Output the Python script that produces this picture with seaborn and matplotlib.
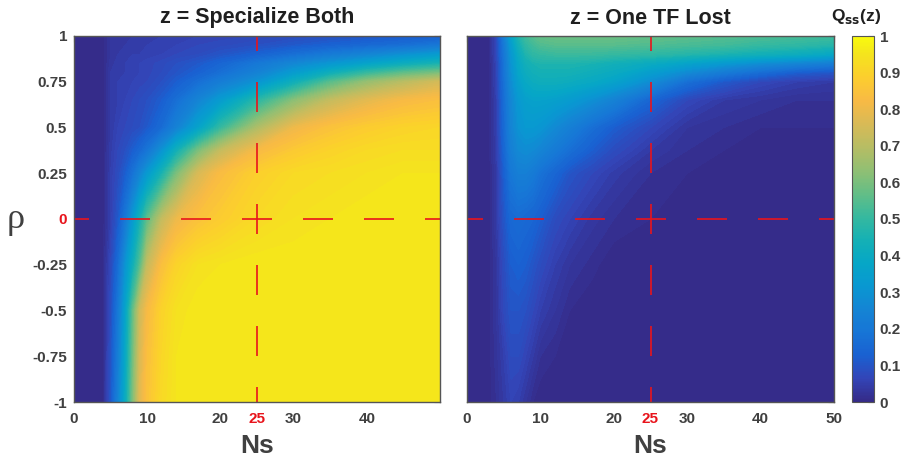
import numpy as np
import matplotlib
matplotlib.use("Agg")
import matplotlib.pyplot as plt
import seaborn as sns
from matplotlib.colors import LinearSegmentedColormap, Normalize
from matplotlib.cm import ScalarMappable

# ---- grid of selection strength (Ns) and correlation (rho) ----
ns_values = [0, 3, 4, 5, 6, 7, 8, 9, 10, 12, 14, 17, 20, 25, 30, 35, 40, 45, 50]
rho_values = [-1, -0.75, -0.5, -0.25, 0, 0.25, 0.375, 0.5, 0.65, 0.75, 0.8, 0.85, 0.9, 0.95, 1]

# steady-state probability Q_ss(z), one row per rho value (bottom to top)
specialize_both = [
    [0, 0, 0.01, 0.10, 0.24, 0.40, 0.60, 0.78, 0.85, 0.92, 0.95, 0.96, 0.96, 0.96, 0.96, 0.96, 0.96, 0.96, 0.96],
    [0, 0, 0.01, 0.09, 0.22, 0.38, 0.58, 0.76, 0.84, 0.91, 0.95, 0.96, 0.96, 0.96, 0.96, 0.96, 0.96, 0.96, 0.96],
    [0, 0, 0.01, 0.08, 0.20, 0.36, 0.56, 0.74, 0.82, 0.90, 0.94, 0.96, 0.96, 0.96, 0.96, 0.96, 0.96, 0.96, 0.96],
    [0, 0, 0.01, 0.07, 0.16, 0.30, 0.42, 0.55, 0.72, 0.84, 0.90, 0.94, 0.95, 0.96, 0.96, 0.96, 0.96, 0.96, 0.96],
    [0, 0, 0.005, 0.05, 0.11, 0.20, 0.32, 0.44, 0.56, 0.72, 0.80, 0.85, 0.88, 0.92, 0.94, 0.95, 0.96, 0.96, 0.96],
    [0, 0, 0.005, 0.05, 0.08, 0.12, 0.18, 0.25, 0.32, 0.45, 0.60, 0.76, 0.83, 0.89, 0.92, 0.93, 0.94, 0.95, 0.95],
    [0, 0, 0.005, 0.045, 0.07, 0.09, 0.12, 0.15, 0.19, 0.30, 0.43, 0.60, 0.72, 0.82, 0.87, 0.90, 0.92, 0.93, 0.93],
    [0, 0, 0.005, 0.04, 0.06, 0.07, 0.08, 0.09, 0.11, 0.16, 0.24, 0.36, 0.50, 0.68, 0.80, 0.85, 0.88, 0.90, 0.91],
    [0, 0, 0.005, 0.04, 0.05, 0.06, 0.07, 0.08, 0.09, 0.12, 0.17, 0.25, 0.33, 0.48, 0.62, 0.72, 0.78, 0.82, 0.84],
    [0, 0, 0.005, 0.04, 0.05, 0.055, 0.06, 0.065, 0.07, 0.09, 0.12, 0.17, 0.22, 0.30, 0.42, 0.55, 0.64, 0.70, 0.75],
    [0, 0, 0.005, 0.04, 0.05, 0.05, 0.055, 0.06, 0.065, 0.08, 0.10, 0.13, 0.17, 0.24, 0.33, 0.42, 0.50, 0.56, 0.60],
    [0, 0, 0.005, 0.035, 0.045, 0.05, 0.055, 0.06, 0.065, 0.075, 0.09, 0.11, 0.14, 0.20, 0.26, 0.31, 0.36, 0.41, 0.45],
    [0, 0, 0.005, 0.03, 0.04, 0.045, 0.05, 0.05, 0.055, 0.06, 0.07, 0.08, 0.10, 0.13, 0.17, 0.21, 0.25, 0.29, 0.33],
    [0, 0, 0.005, 0.03, 0.04, 0.04, 0.045, 0.05, 0.05, 0.055, 0.06, 0.07, 0.075, 0.09, 0.11, 0.13, 0.15, 0.17, 0.20],
    [0, 0, 0.005, 0.03, 0.035, 0.04, 0.04, 0.045, 0.05, 0.05, 0.055, 0.06, 0.065, 0.07, 0.08, 0.09, 0.10, 0.11, 0.12],
]

one_tf_lost = [
    [0, 0.005, 0.02, 0.04, 0.06, 0.05, 0.03, 0.01, 0, 0, 0, 0, 0, 0, 0, 0, 0, 0, 0],
    [0, 0.005, 0.025, 0.05, 0.08, 0.08, 0.06, 0.04, 0.02, 0.01, 0, 0, 0, 0, 0, 0, 0, 0, 0],
    [0, 0.005, 0.03, 0.07, 0.10, 0.10, 0.09, 0.07, 0.05, 0.03, 0.01, 0, 0, 0, 0, 0, 0, 0, 0],
    [0, 0.005, 0.03, 0.08, 0.12, 0.13, 0.12, 0.10, 0.08, 0.05, 0.03, 0.015, 0, 0, 0, 0, 0, 0, 0],
    [0, 0.005, 0.04, 0.10, 0.15, 0.16, 0.15, 0.14, 0.12, 0.08, 0.06, 0.035, 0.02, 0.01, 0, 0, 0, 0, 0],
    [0, 0.005, 0.04, 0.12, 0.20, 0.23, 0.23, 0.21, 0.18, 0.14, 0.10, 0.07, 0.045, 0.02, 0.01, 0, 0, 0, 0],
    [0, 0.005, 0.045, 0.14, 0.23, 0.27, 0.28, 0.27, 0.25, 0.21, 0.17, 0.12, 0.08, 0.04, 0.02, 0.01, 0, 0, 0],
    [0, 0.005, 0.05, 0.15, 0.25, 0.30, 0.32, 0.32, 0.31, 0.27, 0.23, 0.17, 0.12, 0.07, 0.03, 0.02, 0.01, 0.01, 0.01],
    [0, 0.005, 0.05, 0.16, 0.26, 0.32, 0.35, 0.36, 0.36, 0.35, 0.33, 0.29, 0.24, 0.14, 0.07, 0.04, 0.03, 0.02, 0.02],
    [0, 0.005, 0.06, 0.17, 0.28, 0.35, 0.39, 0.41, 0.42, 0.42, 0.41, 0.39, 0.36, 0.28, 0.17, 0.11, 0.07, 0.05, 0.04],
    [0, 0.005, 0.06, 0.18, 0.29, 0.37, 0.41, 0.43, 0.44, 0.44, 0.44, 0.42, 0.40, 0.34, 0.27, 0.21, 0.16, 0.12, 0.10],
    [0, 0.005, 0.06, 0.18, 0.30, 0.38, 0.43, 0.45, 0.46, 0.46, 0.46, 0.45, 0.43, 0.40, 0.36, 0.32, 0.28, 0.25, 0.22],
    [0, 0.005, 0.07, 0.19, 0.31, 0.40, 0.46, 0.49, 0.50, 0.51, 0.51, 0.51, 0.50, 0.49, 0.47, 0.45, 0.43, 0.41, 0.38],
    [0, 0.005, 0.07, 0.20, 0.33, 0.43, 0.49, 0.52, 0.54, 0.55, 0.55, 0.55, 0.55, 0.54, 0.53, 0.52, 0.50, 0.49, 0.47],
    [0, 0.005, 0.07, 0.22, 0.36, 0.46, 0.52, 0.55, 0.57, 0.58, 0.58, 0.58, 0.58, 0.57, 0.56, 0.55, 0.54, 0.53, 0.52],
]

panel_titles = ["z = Specialize Both", "z = One TF Lost"]
ns_ticks_left = [0, 10, 20, 25, 30, 40]
ns_ticks_right = [0, 10, 20, 25, 30, 40, 50]
rho_ticks = [-1, -0.75, -0.5, -0.25, 0, 0.25, 0.5, 0.75, 1]
rho_tick_labels = ["-1", "-0.75", "-0.5", "-0.25", "0", "0.25", "0.5", "0.75", "1"]
cbar_ticks = [0, 0.1, 0.2, 0.3, 0.4, 0.5, 0.6, 0.7, 0.8, 0.9, 1]
cbar_tick_labels = ["0", "0.1", "0.2", "0.3", "0.4", "0.5", "0.6", "0.7", "0.8", "0.9", "1"]
ns_ref = 25
rho_ref = 0

# ---- style ----
sns.set_theme(style="white")
plt.rcParams["font.family"] = ["Liberation Sans", "DejaVu Sans"]
plt.rcParams["font.weight"] = "bold"
plt.rcParams["axes.unicode_minus"] = False
plt.rcParams["lines.scale_dashes"] = False
plt.rcParams["mathtext.default"] = "bf"

TEXT = "#404040"
DARK = "#1f1f1f"
SPINE = "#555555"
RED = "#e8141c"

# parula-like colormap
parula_anchors = [
    (0, (0.2081, 0.1663, 0.5292)), (4, (0.1990, 0.2700, 0.7200)),
    (8, (0.1000, 0.3800, 0.8200)), (12, (0.0900, 0.4600, 0.8400)),
    (16, (0.0793, 0.5200, 0.8312)), (20, (0.0343, 0.5966, 0.8199)),
    (24, (0.0228, 0.6535, 0.7768)), (28, (0.0843, 0.6928, 0.7062)),
    (32, (0.2178, 0.7250, 0.6193)), (36, (0.3953, 0.7459, 0.5244)),
    (40, (0.5709, 0.7485, 0.4494)), (44, (0.7184, 0.7411, 0.3905)),
    (48, (0.8507, 0.7299, 0.3360)), (52, (0.9739, 0.7314, 0.2666)),
    (56, (0.9880, 0.8066, 0.1794)), (60, (0.9589, 0.8949, 0.1132)),
    (63, (0.9763, 0.9831, 0.0538)),
]
cmap = LinearSegmentedColormap.from_list(
    "parula", [(i / 63, c) for i, c in parula_anchors], N=256)
norm = Normalize(0, 1)

W, H = 901, 465
fig = plt.figure(figsize=(W / 100, H / 100), dpi=100)

def frac_box(x0, y0, x1, y1):
    return [x0 / W, 1 - y1 / H, (x1 - x0) / W, (y1 - y0) / H]

ax_left = fig.add_axes(frac_box(74, 36, 440, 402))
ax_right = fig.add_axes(frac_box(467, 36, 834, 402))
cax = fig.add_axes(frac_box(852, 36, 874, 402))

levels = np.linspace(0, 1, 101)
px = 72 / 100  # points per pixel
dash_style = (15 * px, (30 * px, 31 * px))

for ax, data, title, xticks in [
    (ax_left, specialize_both, panel_titles[0], ns_ticks_left),
    (ax_right, one_tf_lost, panel_titles[1], ns_ticks_right),
]:
    z = np.array(data)
    ax.contourf(ns_values, rho_values, z, levels=levels, cmap=cmap, norm=norm)
    ax.set_xlim(0, 50)
    ax.set_ylim(-1, 1)

    # reference cross at Ns = 25, rho = 0, dashes centred on the crossing
    for x_end, y_end in [(ns_ref, 1), (ns_ref, -1), (0, rho_ref), (50, rho_ref)]:
        ax.plot([ns_ref, x_end], [rho_ref, y_end], color=RED, lw=1.2,
                linestyle=dash_style, solid_capstyle="butt", dash_capstyle="butt")

    ax.set_xticks(xticks)
    ax.set_xticklabels([str(t) for t in xticks], fontsize=11, fontweight="bold", color=TEXT)
    ax.set_yticks(rho_ticks)
    ax.tick_params(direction="in", top=True, right=True, length=4, width=0.8,
                   color=SPINE, pad=7)
    for lbl in ax.get_xticklabels():
        if lbl.get_text() == str(ns_ref):
            lbl.set_color(RED)
    for s in ax.spines.values():
        s.set_color(SPINE)
        s.set_linewidth(1.0)
    ax.set_title(title, fontsize=15.5, fontweight="bold", color=DARK, pad=9)
    ax.set_xlabel("Ns", fontsize=19, fontweight="bold", color=TEXT, labelpad=6)

ax_left.set_yticklabels(rho_tick_labels, fontsize=11, fontweight="bold", color=TEXT)
ax_left.tick_params(axis="y", pad=5)
for lbl in ax_left.get_yticklabels():
    if lbl.get_text() == str(rho_ref):
        lbl.set_color(RED)
ax_right.set_yticklabels([])
ax_left.set_ylabel("ρ", fontsize=26, fontweight="normal", color=TEXT, rotation=0,
                   family=["Liberation Serif", "DejaVu Serif"], labelpad=12, va="center")

# colour bar
cb = fig.colorbar(ScalarMappable(norm=norm, cmap=cmap), cax=cax, ticks=cbar_ticks)
cb.ax.set_yticklabels(cbar_tick_labels, fontsize=11, fontweight="bold", color=TEXT)
cb.ax.tick_params(direction="in", length=4, width=0.8, color=SPINE, pad=4)
cb.outline.set_edgecolor(SPINE)
cb.outline.set_linewidth(0.8)
fig.text(856 / W, 1 - 16 / H, r"Q$_{\mathbf{ss}}$(z)", ha="center", va="center",
         fontsize=12.5, fontweight="bold", color=DARK)

fig.savefig("out.png", dpi=100)
